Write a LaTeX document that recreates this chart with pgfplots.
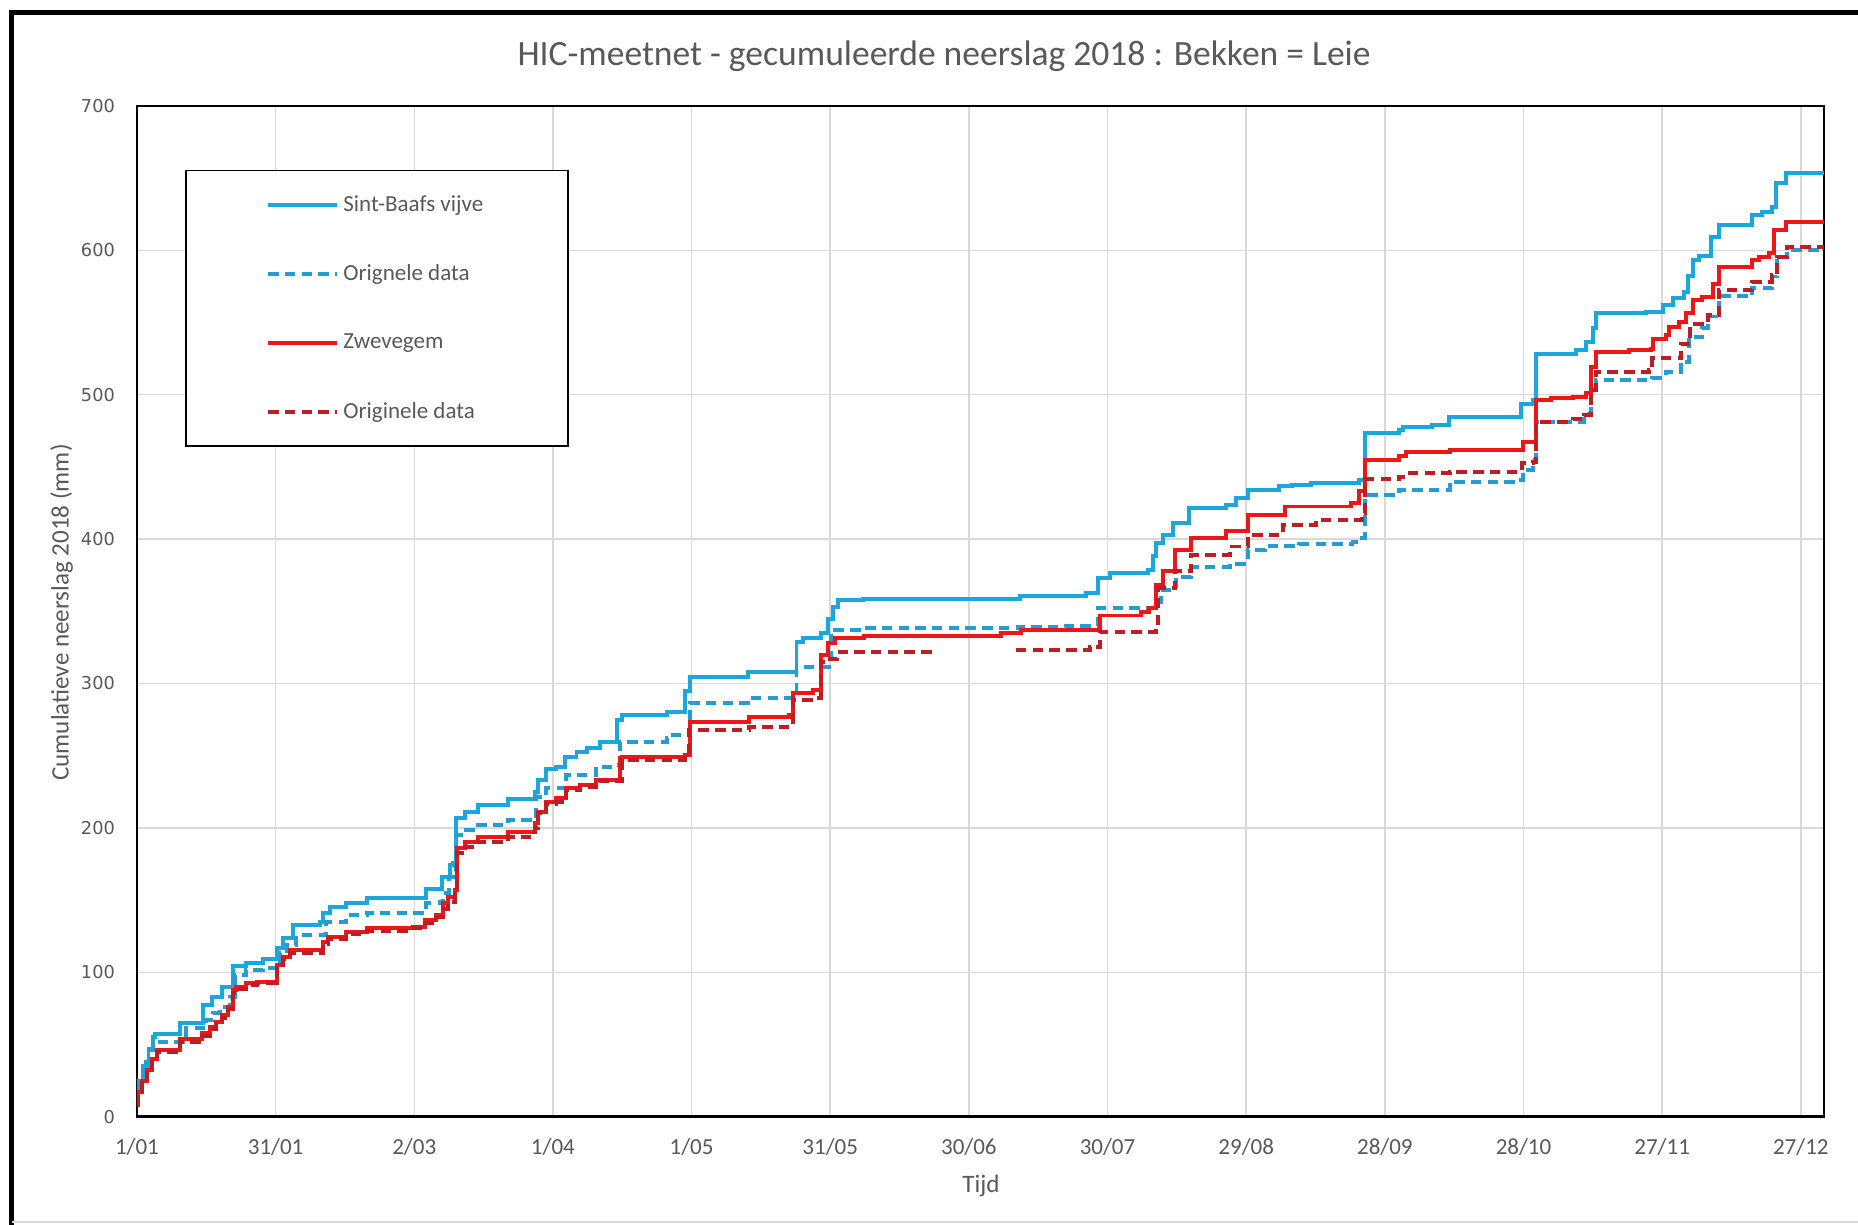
\documentclass[border=0pt]{standalone}
\usepackage{fontspec}
\setmainfont{Carlito}
\newfontfamily\dejavu{DejaVu Sans}
\usepackage{pgfplots}
\pgfplotsset{compat=1.18}
\definecolor{sbblue}{RGB}{28,166,222}
\definecolor{sbdash}{RGB}{38,156,212}
\definecolor{zred}{RGB}{238,22,22}
\definecolor{zdash}{RGB}{190,30,35}
\definecolor{gridgray}{RGB}{217,217,217}
\definecolor{textgray}{RGB}{89,89,89}
\begin{document}
\begin{tikzpicture}
\useasboundingbox (0,0) rectangle (888.7pt,585.9pt);
\fill[white] (0,0) rectangle (888.7pt,585.9pt);
\begin{axis}[
  at={(65.5pt,51.8pt)}, anchor=south west,
  width=806.9pt, height=483.4pt, scale only axis,
  xmin=0, xmax=365, ymin=0, ymax=700,
  xtick={0,30,...,360},
  xticklabels={1/01,31/01,2/03,1/04,1/05,31/05,30/06,30/07,29/08,28/09,28/10,27/11,27/12},
  ytick={0,100,...,700},
  /pgf/number format/assume math mode=true,
  grid=major,
  major grid style={draw=gridgray, line width=0.7pt},
  major tick length=0pt,
  axis line style={black, line width=1.2pt},
  xticklabel style={font=\fontsize{11}{12}\selectfont, text=textgray, yshift=-7pt},
  yticklabel style={font=\dejavu\fontsize{8.5}{10}\selectfont, text=textgray, xshift=-7pt},
  title={HIC-meetnet - gecumuleerde neerslag 2018 : Bekken = Leie},
  title style={at={(0.4784,1.037)}, anchor=center, font=\fontsize{17}{19}\selectfont, text=textgray},
  xlabel={Tijd},
  xlabel style={at={(0.5003,-0.0686)}, anchor=center, font=\fontsize{12}{14}\selectfont, text=textgray},
  ylabel={Cumulatieve neerslag 2018 (mm)},
  ylabel style={at={(-0.0447,0.4988)}, anchor=center, rotate=0, font=\fontsize{12}{14}\selectfont, text=textgray},
  legend style={at={(0.0284,0.9371)}, anchor=north west, draw=black, line width=0.9pt,
    font=\fontsize{11}{12}\selectfont, text=textgray, inner xsep=38.5pt, inner ysep=10pt,
    row sep=20pt, cells={anchor=west}},
  legend image code/.code={\draw[#1, line width=1.9pt] (0pt,0pt) -- (33pt,0pt);},
  every axis plot/.append style={line width=1.9pt, const plot mark left, mark=none},
]
\addplot[sbblue] coordinates {
(0,22) (0.3,25) (1.4,35) (2.5,46) (3.5,55) (4,57.5) (9.3,65) (14.3,77) (16.3,83) (18.5,90)
(20.8,104) (23.7,106.5) (27.3,109.5) (30.2,116.5) (31.6,124) (33.8,132.5) (39.6,135) (40.3,141)
(41.7,145.5) (45.3,148.3) (49.7,151.2) (62.6,158) (65.9,166) (67.7,174) (68.4,176) (69.1,206.6)
(70.9,211.3) (73.8,215.9) (80.3,220.1) (86.1,225) (86.8,233) (88.6,241) (90.7,242.4) (92.6,249.3)
(95.1,252.8) (97.3,255.1) (100.2,259.7) (103.8,274.7) (104.9,278.2) (114.6,280.5) (118.5,295)
(119.6,304.7) (132.3,308.2) (142.7,329) (144.1,331.3) (148.1,334.8) (149.5,345) (150.6,353.3)
(151.6,357.5) (157.1,358.7) (191,360.8) (205.4,362.6) (207.9,373) (210.5,376.4) (218.7,378.7)
(219.8,388) (220.5,397.2) (222,403) (224.1,411) (227.7,421.4) (235.7,423.8) (237.8,428.4)
(240.3,434.2) (247.2,436.5) (250,437.7) (254,438.8) (264.5,441.1) (265.6,473.3) (273.1,475.6)
(274,477.9) (280.3,479) (283.9,484.7) (299.4,493.9) (302,496.2) (302.7,528.2) (311.3,530.9)
(313.5,536.7) (315,545.9) (315.7,556.3) (326.5,557.4) (330.1,562) (332.3,566.7) (334.8,571.3)
(335.5,582) (336.6,593.3) (338,596) (340.5,609.4) (342.3,617.5) (349.5,624.4) (351.5,626.7)
(353.8,630.2) (354.6,646.4) (356.7,653.3) (365,653.3)
};
\addlegendentry{Sint-Baafs vijve}
\addplot[sbdash, dash pattern=on 5pt off 3pt] coordinates {
(0,20) (0.5,28) (1.5,38) (2.5,47) (3.5,52) (10.7,61.2) (15,67) (16.5,71.6) (17.9,76.2) (20.1,83.1)
(21.2,98.1) (23.7,101.5) (27.3,102.7) (30.9,113.1) (32.4,118.9) (34.5,125.8) (41,135.1) (45.3,139.7)
(49.7,141.3) (62.6,147.7) (65.5,149) (66.3,154.7) (67.5,166) (68.4,170) (69.1,195.1) (71.3,198.5)
(73.4,202) (80.3,205.5) (86.4,221.6) (88.6,227.4) (92.9,236.6) (99.4,242.4) (103.8,243.6)
(104.5,259.7) (114.6,262) (115,264.3) (119.6,286.3) (132.6,289.8) (142.7,311.2) (150.2,337)
(157,338.2) (190.6,338.9) (201,339.8) (207.9,352) (220.5,356.6) (221.5,365) (224.9,373.9)
(228.1,380.8) (236.4,383.1) (240.3,392.3) (244,395.3) (251.5,396.9) (263,398.1) (265,401)
(265.6,430.5) (273.1,434.2) (284,439.8) (299,441) (299.8,447.9) (302,454.8) (302.7,481.3)
(313.1,487) (314.6,503.3) (315.7,510.2) (327.9,511.4) (330.8,516) (334,523) (335.8,540.3)
(338.7,546.1) (340,554.2) (342.3,568.1) (349.5,573.8) (353.8,581.9) (354.9,595.6) (357,600.2)
(365,600.2)
};
\addlegendentry{Orignele data}
\addplot[zred] coordinates {
(0,9) (0.3,17) (1,25) (2.1,32) (3.2,40) (4.3,46.2) (9.3,53.6) (14,57.7) (15.8,62.3) (17.2,65.8)
(18.3,70.4) (19.7,76.2) (20.8,87.7) (21.5,90) (23.7,92.3) (25.9,93.5) (30.2,105) (31.6,110.8)
(33.1,115.4) (40.3,121.2) (41.4,124.6) (45.3,128.1) (49.7,130.5) (59.8,131.6) (62.3,136) (64.8,140)
(66.3,147.7) (67.3,152.3) (68.8,156.9) (69.3,185.9) (70.9,190.5) (73.8,193.9) (80.3,197.4)
(86.1,203.2) (86.8,211.3) (88.6,218.2) (90.7,220.5) (92.9,227.4) (95.8,229.7) (99.4,233.1)
(104.5,248.2) (105,249.3) (118.5,250.5) (119.6,273.6) (132.4,277) (141,278.2) (142,293.2)
(146.3,295.5) (148.1,319.7) (149.5,328) (151,331.5) (157.4,332.6) (187,334.9) (191.3,337.2)
(208.3,347.1) (217.3,349.8) (219,352.1) (220.5,368.3) (222,377.6) (224.5,392.6) (228.1,400.7)
(235.7,405.3) (240.3,416.8) (248.3,422.6) (262.7,424.9) (264.5,433) (265.6,454.8) (273.1,457.5)
(274.5,460.5) (284,461.7) (299.8,467.5) (302.7,496.3) (306,497.5) (310.6,498.6) (313.5,500.9)
(314.6,519.4) (315.7,529.8) (322.9,530.9) (327.5,532) (328,538.9) (330.8,541.2) (331.5,547)
(333.7,550.5) (335.1,556.3) (336.6,565.5) (338.7,567.8) (340.9,577) (342.3,588.6) (349.5,593.3)
(351,595.6) (353.1,597.9) (354.2,614.1) (356.7,619.9) (365,619.9)
};
\addlegendentry{Zwevegem}
\addplot[zdash, dash pattern=on 5pt off 3pt] coordinates {
(0,8) (0.3,15) (1,23) (2.1,30) (3.2,38) (4.3,45) (9.3,52) (14,56) (15.8,60.5) (17.2,64) (18.3,68.5)
(19.7,74.5) (20.8,85.5) (21.5,88.5) (23.7,91) (25.9,92.3) (30.2,103) (31.6,109) (33.1,113.5)
(40.3,119.5) (41.4,123) (45.3,126.5) (49.7,128.8) (59.8,130.4) (62.3,134) (64.8,138) (66.3,144)
(67.3,149) (68.8,154) (69.3,182.4) (70.9,187) (73.8,190.5) (80.3,193.9) (86.1,200) (86.8,210)
(88.6,216.6) (90.7,217.7) (92.9,225.9) (95.8,228.2) (99.4,232.7) (104.9,247) (118.5,248.2)
(119.5,267.8) (132.4,270.1) (141.6,271.3) (142,288.6) (146.3,289.8) (148.1,314.9) (150,316.8)
(151.5,322.1) (173,322.1)
};
\addlegendentry{Originele data}
\addplot[zdash, dash pattern=on 5pt off 3pt, forget plot] coordinates {
(190.2,323.2) (206.1,325.5) (208.3,336) (220.5,339.8) (221,365.9) (224.5,377.6) (228.1,389.1)
(236.4,394.9) (240.3,402.9) (247.9,409.8) (255,413.2) (265,418) (265.6,441.4) (273.1,443.3)
(274.5,445.6) (284,446.8) (299.1,449.1) (299.6,452.5) (302,453.7) (302.7,481.3) (310.6,483)
(313.1,486) (314.6,503.3) (315.7,516) (327.2,517.2) (327.9,525.3) (334,535.4) (336.1,549.3)
(340,555) (342.3,572.4) (349.5,578.2) (353.8,582.8) (354.9,595.6) (357,602.5) (365,602.5)
};
\end{axis}
\draw[black, line width=2.4pt] (5.7pt,0pt) -- (5.7pt,580pt) -- (888.7pt,580pt);
\draw[gridgray, line width=1pt] (5.7pt,1.2pt) -- (888.7pt,1.2pt);
\end{tikzpicture}
\end{document}
